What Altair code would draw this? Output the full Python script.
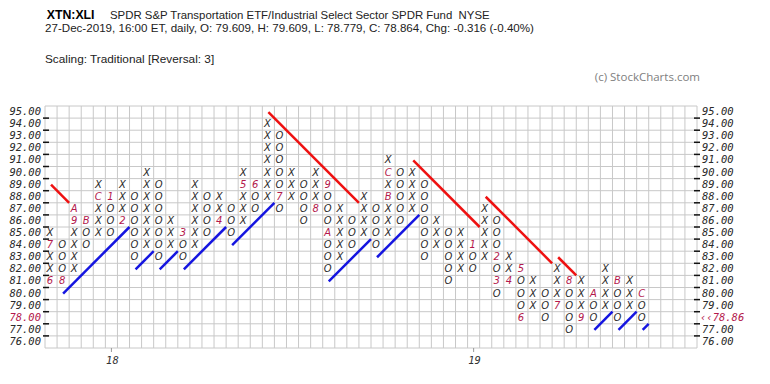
import altair as alt
import pandas as pd

# ---- Point & Figure columns (alternating X / O, starting with X) ----
col_low = [81, 81, 82, 84, 85, 85, 86, 83, 84, 83, 84, 83, 84, 85, 86, 85, 86, 87, 88, 87,
           88, 86, 87, 82, 83, 84, 85, 84, 85, 86, 87, 83, 84, 81, 82, 82, 83, 80, 81, 78,
           79, 78, 79, 77, 78, 78, 79, 78, 79, 78]
col_high = [85, 84, 87, 86, 89, 88, 89, 88, 90, 89, 86, 85, 89, 88, 88, 87, 90, 89, 94, 93,
            90, 89, 90, 89, 87, 86, 88, 87, 91, 90, 90, 89, 86, 85, 85, 84, 87, 86, 83, 82,
            81, 80, 82, 81, 81, 80, 82, 81, 81, 80]

# ---- month markers (column, price box, code) ----
month_col = [0, 0, 1, 2, 2, 3, 4, 5, 6, 11, 14, 16, 17, 19, 22, 23, 23, 28, 28, 35,
             37, 37, 38, 39, 39, 42, 43, 44, 45, 47, 49]
month_price = [81, 84, 81, 86, 87, 86, 88, 88, 86, 85, 86, 89, 89, 88, 87, 89, 85, 88, 90, 84,
               83, 81, 81, 82, 78, 79, 81, 78, 80, 81, 80]
month_code = ["6", "7", "8", "9", "A", "B", "C", "1", "2", "3", "4", "5", "6", "7", "8", "9",
              "A", "B", "C", "1", "2", "3", "4", "5", "6", "7", "8", "9", "A", "B", "C"]

# ---- trend lines (column units / price units) ----
trend_kind = ["red"] * 5 + ["blue"] * 10
trend_c0 = [0.5, 18.5, 30.5, 36.5, 42.5, 1.5, 7.5, 9.5, 11.5, 15.5, 23.5, 27.5, 45.5, 47.5, 49.5]
trend_p0 = [89, 95, 91, 88, 83, 80, 82, 82, 82, 84, 81, 83, 77, 77, 77]
trend_c1 = [2, 26, 36, 42, 44, 7, 9, 11, 15, 19, 27, 31, 47, 49, 50]
trend_p1 = [87.5, 87.5, 85.5, 82.5, 81.5, 85.5, 83.5, 83.5, 85.5, 87.5, 84.5, 86.5, 78.5, 78.5, 77.5]

# ---- axes ----
price_levels = list(range(95, 75, -1))
last_price_row = 78
last_price_label = "‹‹78.86"
year_col = [5, 35]
year_label = ["18", "19"]
n_cols = 54

title_sym = "XTN:XLI"
title_name = "SPDR S&P Transportation ETF/Industrial Select Sector SPDR Fund \u00a0NYSE"
title_line2 = "27-Dec-2019, 16:00 ET, daily, O: 79.609, H: 79.609, L: 78.779, C: 78.864, Chg: -0.316 (-0.40%)"
title_line3 = "Scaling: Traditional [Reversal: 3]"
credit = "(c) StockCharts.com"

W, H = 652, 242
RED_TXT = "#b4184c"
INK = "#2a2a2a"

# ---- build tables ----
month_map = {(c, p): m for c, p, m in zip(month_col, month_price, month_code)}
boxes = []
for c, (lo, hi) in enumerate(zip(col_low, col_high)):
    g = "X" if c % 2 == 0 else "O"
    for p in range(lo, hi + 1):
        if (c, p) not in month_map:
            boxes.append({"c": c + 0.5, "p": p, "g": g})
boxes = pd.DataFrame(boxes)
months = pd.DataFrame({"c": [c + 0.5 for c in month_col], "p": month_price, "g": month_code})

ymin, ymax = min(price_levels) - 0.5, max(price_levels) + 0.5
xs = alt.Scale(domain=[0, n_cols])
ys = alt.Scale(domain=[ymin, ymax])

vgrid = pd.DataFrame({"x": list(range(n_cols + 1)), "y": ymin, "y2": ymax})
hgrid = pd.DataFrame({"y": [p + 0.5 for p in range(int(ymin - 0.5), int(ymax + 0.5))], "x": 0, "x2": n_cols})
ticks = pd.DataFrame({"y": [p - 0.5 for p in price_levels[:-1]]})

norm_levels = [p for p in price_levels if p != last_price_row]
lab_norm = pd.DataFrame({"p": norm_levels, "t": [f"{p:.2f}" for p in norm_levels]})
lab_cur_left = pd.DataFrame({"p": [last_price_row], "t": [f"{last_price_row:.2f}"]})
lab_cur_right = pd.DataFrame({"p": [last_price_row], "t": [last_price_label]})
years = pd.DataFrame({"c": [c + 0.5 for c in year_col], "t": year_label})
trends = pd.DataFrame({"k": trend_kind, "c0": trend_c0, "p0": trend_p0, "c1": trend_c1, "p1": trend_p1})

grid_v = alt.Chart(vgrid).mark_rule(color="#c8c8c8", strokeWidth=1).encode(
    x=alt.X("x:Q", scale=xs, axis=None), y=alt.Y("y:Q", scale=ys, axis=None), y2="y2:Q")
grid_h = alt.Chart(hgrid).mark_rule(color="#c8c8c8", strokeWidth=1).encode(
    y=alt.Y("y:Q", scale=ys, axis=None), x=alt.X("x:Q", scale=xs, axis=None), x2="x2:Q")

lticks = alt.Chart(ticks).mark_rule(color="#111111", strokeWidth=1.5).encode(
    y=alt.Y("y:Q", scale=ys, axis=None), x=alt.value(-2), x2=alt.value(4))
rticks = alt.Chart(ticks).mark_rule(color="#111111", strokeWidth=1.5).encode(
    y=alt.Y("y:Q", scale=ys, axis=None), x=alt.value(W - 3), x2=alt.value(W + 3))


def side_labels(df, x, align, color):
    return alt.Chart(df).mark_text(font="DejaVu Sans Mono", fontStyle="italic", fontSize=10.5,
                                   align=align, baseline="middle", color=color).encode(
        y=alt.Y("p:Q", scale=ys, axis=None), x=alt.value(x), text="t:N")


llabels = side_labels(lab_norm, -4, "right", INK)
llabels_cur = side_labels(lab_cur_left, -4, "right", RED_TXT)
rlabels = side_labels(lab_norm, W + 5, "left", INK)
rlabels_cur = side_labels(lab_cur_right, W + 3, "left", RED_TXT)

yticks = alt.Chart(years).mark_rule(color="#999999", strokeWidth=1).encode(
    x=alt.X("c:Q", scale=xs, axis=None), y=alt.value(H), y2=alt.value(H + 4))
ylabels = alt.Chart(years).mark_text(font="DejaVu Sans Mono", fontStyle="italic", fontSize=10.5,
                                     align="center", baseline="middle", color="#333333", dx=1).encode(
    x=alt.X("c:Q", scale=xs, axis=None), y=alt.value(H + 13), text="t:N")

glyphs = alt.Chart(boxes).mark_text(font="DejaVu Sans", fontStyle="italic", fontSize=10,
                                    align="center", baseline="middle", dx=-1, color=INK).encode(
    x=alt.X("c:Q", scale=xs, axis=None), y=alt.Y("p:Q", scale=ys, axis=None), text="g:N")
mglyphs = alt.Chart(months).mark_text(font="DejaVu Sans", fontStyle="italic", fontSize=10,
                                      align="center", baseline="middle", dx=-1, color=RED_TXT).encode(
    x=alt.X("c:Q", scale=xs, axis=None), y=alt.Y("p:Q", scale=ys, axis=None), text="g:N")

lines = alt.Chart(trends).mark_rule(strokeWidth=2.5).encode(
    x=alt.X("c0:Q", scale=xs, axis=None), y=alt.Y("p0:Q", scale=ys, axis=None),
    x2="c1:Q", y2="p1:Q",
    color=alt.Color("k:N", scale=alt.Scale(domain=["red", "blue"], range=["#ee1111", "#1515e0"]), legend=None))


def header(txt, x, y, size, weight="normal", color="#222222", align="left", font="Liberation Sans"):
    return alt.Chart(pd.DataFrame({"t": [txt]})).mark_text(
        font=font, fontSize=size, fontWeight=weight, color=color, align=align, baseline="alphabetic").encode(
        text="t:N", x=alt.value(x), y=alt.value(y))


hdr = [
    header(title_sym, 1.7, -86.8, 12.3, weight="bold", color="#000000"),
    header(title_name, 65, -86.8, 11.4),
    header(title_line2, 0, -73.8, 11.6),
    header(title_line3, 0, -42.7, 11.8),
    header(credit, 655, -25.5, 11.5, color="#808080", align="right", font="Open Sans"),
]

chart = alt.layer(grid_v, grid_h, lines, glyphs, mglyphs, lticks, rticks,
                  llabels, llabels_cur, rlabels, rlabels_cur, yticks, ylabels, *hdr).properties(
    width=W, height=H,
    autosize=alt.AutoSizeParams(type="none"),
    padding={"left": 37, "top": 98, "right": 65, "bottom": 20},
    background="white",
).configure_view(stroke=None)

chart.save("out.html", embed_options={"renderer": "svg", "actions": False})
